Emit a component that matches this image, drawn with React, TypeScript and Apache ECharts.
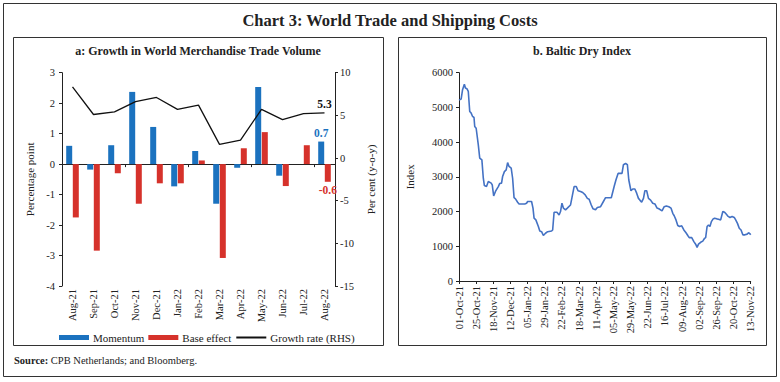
import React, { useEffect, useRef } from "react";
import * as echarts from "echarts";

const months = ["Aug-21", "Sep-21", "Oct-21", "Nov-21", "Dec-21", "Jan-22", "Feb-22", "Mar-22", "Apr-22", "May-22", "Jun-22", "Jul-22", "Aug-22"];
const momentum = [0.6, -0.18, 0.62, 2.37, 1.22, -0.73, 0.43, -1.3, -0.12, 2.53, -0.38, 0, 0.74];
const baseEffect = [-1.75, -2.84, -0.3, -1.3, -0.63, -0.63, 0.12, -3.08, 0.52, 1.05, -0.72, 0.62, -0.58];
const growthRate = [8.35, 5.1, 5.4, 6.6, 7.1, 5.7, 6.2, 1.6, 2.1, 5.7, 4.5, 5.2, 5.3];

const bdiTickLabels = ["01-Oct-21", "25-Oct-21", "18-Nov-21", "12-Dec-21", "05-Jan-22", "29-Jan-22", "22-Feb-22", "18-Mar-22", "11-Apr-22", "05-May-22", "29-May-22", "22-Jun-22", "16-Jul-22", "09-Aug-22", "02-Sep-22", "26-Sep-22", "20-Oct-22", "13-Nov-22"];
// days since 01-Oct-21
const bdiDays = [0, 3, 5, 7.5, 9, 11, 13, 15, 17, 19, 21, 22, 24, 27, 29, 32, 34, 35.5, 38.5, 41, 45, 46.5, 48.5, 51, 53.5, 55, 57, 59.5, 61, 63.5, 66, 68, 70, 73, 75, 77, 79, 82, 84, 92, 94.5, 96, 101.5, 103.5, 105, 107.5, 111, 113, 115.5, 118, 121, 124, 129.5, 131, 133, 137, 140, 142, 144, 146, 149, 151.5, 156, 158, 161, 164, 166.5, 170, 173, 176.5, 179.5, 182, 185, 187.5, 191, 193.5, 198, 202, 205, 213, 217, 219.5, 222.5, 228, 230, 233, 235.5, 237.5, 240.5, 243, 246, 248.5, 251, 253, 255.5, 258, 260, 262.5, 265, 268, 271, 274, 277, 279.5, 284, 287, 290, 293.5, 296.5, 299, 301, 303.5, 306, 308.5, 311.5, 314.5, 317.5, 320, 322, 325.5, 328.5, 331, 333, 335, 338, 341, 343.5, 345, 347, 349, 351, 353, 355.5, 357.5, 360.5, 363, 366, 369, 371.5, 374, 376.5, 379, 382, 385, 387, 389.5, 392, 394.5, 397, 400, 403, 405, 407, 408];
const bdiValues = [5210, 5240, 5510, 5670, 5560, 5540, 5460, 4885, 4836, 4740, 4710, 4450, 4400, 3920, 3540, 3490, 2960, 2750, 2720, 2865, 2820, 2770, 2450, 2580, 2670, 2720, 2810, 2820, 3010, 3150, 3200, 3410, 3300, 3250, 2960, 2400, 2365, 2270, 2220, 2220, 2240, 2290, 2290, 2100, 1810, 1760, 1570, 1440, 1420, 1310, 1375, 1420, 1440, 1470, 1980, 1980, 1900, 2000, 2240, 2100, 2050, 2100, 2190, 2400, 2720, 2720, 2600, 2580, 2550, 2480, 2380, 2355, 2190, 2080, 2050, 2115, 2140, 2290, 2400, 2400, 2720, 2910, 3100, 3100, 3350, 3385, 3350, 2910, 2600, 2650, 2650, 2530, 2380, 2330, 2270, 2380, 2600, 2600, 2380, 2330, 2240, 2220, 2100, 2080, 2020, 2140, 2160, 2140, 2100, 1950, 1880, 1760, 1600, 1570, 1590, 1470, 1390, 1310, 1250, 1250, 1135, 1060, 970, 1060, 1115, 1150, 1230, 1250, 1570, 1615, 1570, 1710, 1790, 1810, 1790, 1780, 1760, 2000, 1980, 1920, 1860, 1830, 1860, 1830, 1760, 1660, 1520, 1470, 1330, 1330, 1350, 1390, 1360, 1330];

const FONT = "'Liberation Serif', 'DejaVu Serif', serif";
const BLUE = "#1b72bf";
const RED = "#d6322b";
const TXT = "#222";

export default function App() {
  const ref = useRef<HTMLDivElement>(null);
  useEffect(() => {
    document.body.style.margin = "0";
    if (!ref.current) return;
    const chart = echarts.init(ref.current, undefined, { renderer: "svg" });
    const lastIdx = months.length - 1;
    const axisLine = { show: true, lineStyle: { color: "#222", width: 1 } };
    const tick = { show: true, length: 3, lineStyle: { color: "#222" } };
    const lbl = { color: TXT, fontFamily: FONT, fontSize: 10.5 };
    chart.setOption({
      animation: false,
      backgroundColor: "#fff",
      textStyle: { fontFamily: FONT },
      grid: [
        { left: 62, top: 72.7, width: 273, height: 213.3 },
        { left: 459, top: 72.7, width: 291.7, height: 208.3 },
      ],
      xAxis: [
        {
          gridIndex: 0, type: "category", data: months, position: "bottom",
          axisLine: { show: false, onZero: false }, axisTick: { show: false },
          axisLabel: { ...lbl, rotate: 90, margin: 3 },
        },
        {
          gridIndex: 0, type: "category", data: months, position: "top",
          axisLine: { show: true, onZero: true, onZeroAxisIndex: 0, lineStyle: { color: "#222" } },
          axisTick: { show: true, inside: true, length: 3, lineStyle: { color: "#222" } },
          axisLabel: { show: false },
        },
        {
          gridIndex: 1, type: "value", min: 0, max: 408, interval: 24,
          axisLine, axisTick: tick, splitLine: { show: false },
          axisLabel: {
            ...lbl, rotate: 90, margin: 5, showMinLabel: true, showMaxLabel: true,
            formatter: (v: number) => bdiTickLabels[Math.round(v / 24)] ?? "",
          },
        },
      ],
      yAxis: [
        {
          gridIndex: 0, type: "value", min: -4, max: 3, interval: 1, position: "left",
          axisLine, axisTick: tick, splitLine: { show: false },
          axisLabel: { ...lbl, margin: 7 },
          name: "Percentage point", nameLocation: "middle", nameGap: 27, nameRotate: 90,
          nameTextStyle: { color: TXT, fontFamily: FONT, fontSize: 11 },
        },
        {
          gridIndex: 0, type: "value", min: -15, max: 10, interval: 5, position: "right",
          axisLine, axisTick: tick, splitLine: { show: false },
          axisLabel: { ...lbl, margin: 5 },
          name: "Per cent (y-o-y)", nameLocation: "middle", nameGap: 30, nameRotate: 90,
          nameTextStyle: { color: TXT, fontFamily: FONT, fontSize: 11 },
        },
        {
          gridIndex: 1, type: "value", min: 0, max: 6000, interval: 1000, position: "left",
          axisLine, axisTick: tick, splitLine: { show: false },
          axisLabel: { ...lbl, margin: 6, formatter: (v: number) => String(v) },
          name: "Index", nameLocation: "middle", nameGap: 44, nameRotate: 90,
          nameTextStyle: { color: TXT, fontFamily: FONT, fontSize: 11 },
        },
      ],
      legend: {
        left: 54, top: 327, itemWidth: 30, itemHeight: 5, itemGap: 4,
        textStyle: { color: TXT, fontFamily: FONT, fontSize: 11, padding: [0, 0, 0, -1] },
        data: [
          { name: "Momentum", icon: "rect" },
          { name: "Base effect", icon: "rect" },
          { name: "Growth rate (RHS)", itemStyle: { opacity: 0 } },
        ],
      },
      series: [
        {
          name: "Momentum", type: "bar", xAxisIndex: 0, yAxisIndex: 0,
          barWidth: 6, barGap: "10%", itemStyle: { color: BLUE },
          data: momentum.map((v, i) =>
            i === lastIdx
              ? { value: v, label: { show: true, position: "top", distance: 3, color: BLUE, fontWeight: "bold", fontSize: 11.5, fontFamily: FONT, formatter: (p: any) => p.value.toFixed(1) } }
              : v
          ),
        },
        {
          name: "Base effect", type: "bar", xAxisIndex: 0, yAxisIndex: 0,
          barWidth: 6, barGap: "10%", itemStyle: { color: RED },
          data: baseEffect.map((v, i) =>
            i === lastIdx
              ? { value: v, label: { show: true, position: "bottom", distance: 2, color: RED, fontWeight: "bold", fontSize: 11.5, fontFamily: FONT, formatter: (p: any) => p.value.toFixed(1) } }
              : v
          ),
        },
        {
          name: "Growth rate (RHS)", type: "line", xAxisIndex: 0, yAxisIndex: 1,
          symbol: "circle", symbolSize: 0.1, showSymbol: true,
          lineStyle: { color: "#111", width: 1.3 }, itemStyle: { color: "#111" },
          data: growthRate.map((v, i) =>
            i === lastIdx
              ? { value: v, label: { show: true, position: "top", distance: 3, color: "#111", fontWeight: "bold", fontSize: 11.5, fontFamily: FONT, formatter: (p: any) => p.value.toFixed(1) } }
              : v
          ),
        },
        {
          name: "BDI", type: "line", xAxisIndex: 2, yAxisIndex: 2,
          symbol: "none", lineStyle: { color: "#4472c4", width: 1.6 },
          data: bdiDays.map((d, i) => [d, bdiValues[i]]),
        },
      ],
      graphic: [
        { type: "rect", shape: { x: 3.5, y: 3.5, width: 773, height: 373 }, style: { fill: "none", stroke: "#333", lineWidth: 1 } },
        { type: "rect", shape: { x: 13.5, y: 37.5, width: 370, height: 308 }, style: { fill: "none", stroke: "#333", lineWidth: 1 } },
        { type: "rect", shape: { x: 398.5, y: 37.5, width: 368, height: 308 }, style: { fill: "none", stroke: "#333", lineWidth: 1 } },
        { type: "text", x: 390, y: 20, style: { text: "Chart 3: World Trade and Shipping Costs", font: `bold 16.5px ${FONT}`, fill: "#222", align: "center", verticalAlign: "middle" } },
        { type: "text", x: 198, y: 51, style: { text: "a: Growth in World Merchandise Trade Volume", font: `bold 12px ${FONT}`, fill: "#222", align: "center", verticalAlign: "middle" } },
        { type: "text", x: 582, y: 51, style: { text: "b. Baltic Dry Index", font: `bold 12px ${FONT}`, fill: "#222", align: "center", verticalAlign: "middle" } },
        {
          type: "text", x: 14, y: 360,
          style: {
            text: "{b|Source:} CPB Netherlands; and Bloomberg.", font: `10.5px ${FONT}`, fill: "#222", verticalAlign: "middle",
            rich: { b: { fontWeight: "bold", fontSize: 10.5, fontFamily: FONT, fill: "#222" } },
          },
        },
      ],
    });
    return () => chart.dispose();
  }, []);
  return <div ref={ref} style={{ width: 780, height: 382 }} />;
}
